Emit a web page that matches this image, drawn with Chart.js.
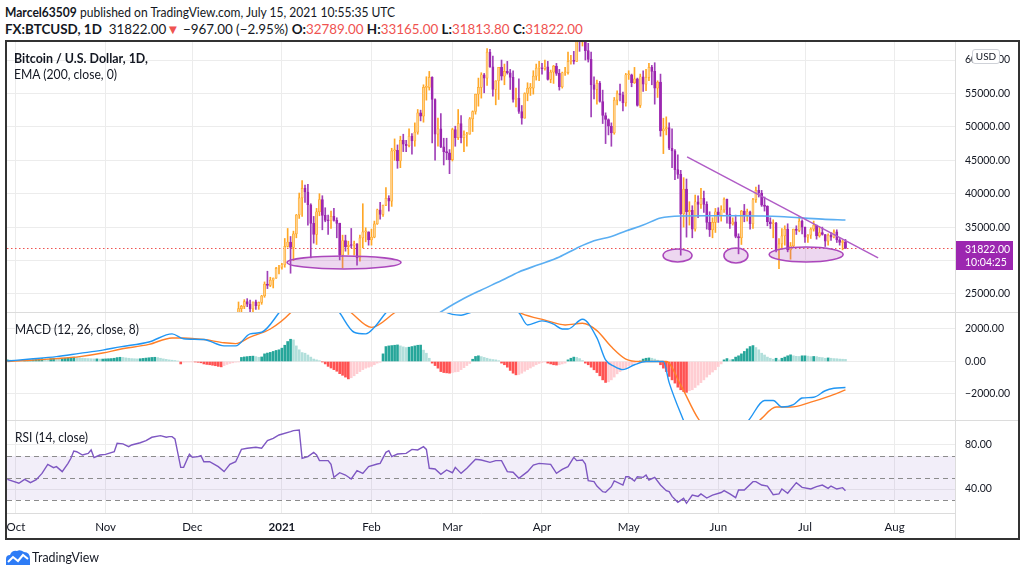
<!DOCTYPE html>
<html><head><meta charset="utf-8">
<script src="https://cdn.jsdelivr.net/npm/chart.js@4.4.1/dist/chart.umd.min.js"></script>
<style>
html,body{margin:0;padding:0;background:#fff}
body{width:1024px;height:575px;position:relative;overflow:hidden;font-family:Lato,'Liberation Sans',sans-serif;color:#131722}
.t{position:absolute;white-space:nowrap;transform-origin:0 50%;line-height:16px;font-size:13px}
.b{font-weight:bold}
.r{color:#EF5350}
canvas{position:absolute;left:7px}
.ln{position:absolute;background:#dcdcdc}
#frame{position:absolute;left:5px;top:40px;width:1015px;height:500px;border:2px solid #333;box-sizing:border-box;pointer-events:none}
#usd{position:absolute;left:972px;top:49px;width:26px;height:13px;border:1px solid #cfd2d8;border-radius:3px;background:#fff;font-size:10px;line-height:13px;text-align:center;color:#131722}
</style></head><body>
<div id="h1" class="t" style="left:5px;top:4px"><span class="b">Marcel63509</span> published on TradingView.com, July 15, 2021 10:55:35 UTC</div>
<div id="h2" class="t" style="left:5px;top:21px"><span class="b">FX:BTCUSD, 1D</span>&nbsp; 31822.00<span class="r">▼</span> −967.00 (−2.95%) <span class="b">O:</span><span class="r">32789.00</span> <span class="b">H:</span><span class="r">33165.00</span> <span class="b">L:</span><span class="r">31813.80</span> <span class="b">C:</span><span class="r">31822.00</span></div>

<canvas id="cMain" width="1012" height="271" style="top:41px;width:1012px;height:271px"></canvas>
<canvas id="cMacd" width="1012" height="108" style="top:312px;width:1012px;height:108px"></canvas>
<canvas id="cRsi" width="1012" height="119" style="top:420px;width:1012px;height:119px"></canvas>

<div class="ln" style="left:6px;top:312px;width:1013px;height:1px"></div>
<div class="ln" style="left:6px;top:420px;width:1013px;height:1px"></div>
<div class="ln" style="left:955px;top:41px;width:1px;height:498px"></div>

<div id="lg1" class="t b" style="left:14px;top:50px;font-size:14px">Bitcoin / U.S. Dollar, 1D,</div>
<div id="lg2" class="t" style="left:14px;top:66px;font-size:14px">EMA (200, close, 0)</div>
<div id="lg3" class="t" style="left:15px;top:321px;font-size:13px">MACD (12, 26, close, 8)</div>
<div id="lg4" class="t" style="left:15px;top:429px;font-size:13px">RSI (14, close)</div>
<div id="usd">USD</div>
<div id="frame"></div>

<svg style="position:absolute;left:5px;top:549px" width="26" height="17" viewBox="0 0 26 17">
<path d="M1 16 L1 10 Q1 6 5 6 Q7 1 12 2 Q15 0 19 3 Q25 3 25 10 L25 16 Z" fill="#2E7CF6"/>
<polyline points="3,13 8,8 13,12 18,6 23,10" fill="none" stroke="#fff" stroke-width="2"/>
</svg>
<div id="ft" class="t" style="left:32px;top:549px;font-size:13px">TradingView</div>

<script>
// ---------------- DATA ----------------
// x axis: day index, 0 = 1 Oct 2020
const monthDays   = [0, 31, 61, 92, 123, 151, 182, 212, 243, 273, 304];
const monthLabels = ['Oct','Nov','Dec','2021','Feb','Mar','Apr','May','Jun','Jul','Aug'];

const priceTicks = [25000, 30000, 35000, 40000, 45000, 50000, 55000, 60000];
const macdTicks  = [-2000, 0, 2000];
const rsiTicks   = [40, 80];

// Daily candles from 17 Dec 2020 (day 77) to 15 Jul 2021 (day 287)
const candleStartDay = 77;
const opens = [
 21300,22800,23150,23850,23480,22750,23820,23250,23730,24700,26480,26280,27080,27360,28840,
 29000,29370,32130,32780,31970,33990,36820,39370,40800,40250,38350,35550,33900,37300,39140,36770,36000,35950,36600,36000,35550,30800,33000,32090,32290,32250,32500,30400,33400,34300,34300,
 33100,33500,35500,37600,36900,38300,39300,38900,46400,46500,44900,48000,47400,47200,48600,47900,49200,52100,51600,55900,55900,57400,54100,48900,49700,47000,46300,46100,
 45100,49600,48400,50500,48400,48800,48900,51200,52300,54900,55900,57800,57300,61200,59000,55600,56900,58900,57600,58300,58100,57400,54100,54300,52300,51300,55000,55800,55800,57600,58800,
 58800,58700,59000,57100,58200,59100,58000,56000,58100,58100,59800,59900,59800,63500,62900,63200,61400,60100,56300,55600,56500,53800,51700,51100,50100,49100,54000,55000,54800,53600,
 57800,57800,56600,57200,53200,57500,56400,57400,58900,58300,55800,56700,49400,49700,49900,46800,46400,43600,42900,37000,40700,37300,37500,34700,38800,38400,39300,38400,35700,34600,35700,
 37300,36700,37600,39200,36900,35500,35800,33600,33400,37400,36700,37300,35500,39100,40500,40100,38300,38100,35800,35500,35600,31600,32500,33700,34700,31600,32200,34700,34500,35900,
 35000,33500,33800,34700,35300,33700,34200,33900,32900,33800,33500,34300,33100,32700,32789];
const highs = [
 23800,23300,24150,24300,24100,23800,24100,23800,24800,26800,28400,27500,27400,28990,29300,
 29600,33300,34800,33600,34400,36900,40100,41950,41300,41400,38500,36600,37800,40000,39700,37900,36800,37400,37800,36400,35600,33800,33800,32900,34800,32900,32550,33800,38500,34900,34300,
 34700,35900,37700,38700,38300,40900,39700,46800,48200,47300,48600,48900,48000,49700,49000,50600,52600,52500,56300,57500,58300,57500,54200,51300,52000,48300,48300,46600,
 49800,50100,52600,51700,49400,49200,51400,52400,54900,57300,58100,58000,61700,61600,60600,56900,58900,60000,59400,59800,58600,58400,55800,57200,53200,55100,56600,56500,58400,59400,59800,
 59500,60000,59800,58500,59200,59500,58600,58200,58900,61200,60700,61300,63800,64800,63800,63500,62500,61200,57500,57000,56800,55500,52100,51200,50600,54400,55400,56400,55200,58000,
 58400,57900,58900,57300,57900,58400,58600,59500,59200,59600,56900,57900,51300,51500,50600,49700,46600,45800,43500,42400,42200,38800,38200,39800,39700,40800,40400,38800,37300,36400,37800,
 37900,38200,39400,39200,37900,36400,36800,34000,37500,38400,37700,37400,39300,41000,41300,40500,39500,38200,36400,36100,35700,33300,34800,35200,35500,32700,34700,35200,36600,36100,
 35000,33900,34900,35900,35300,35000,35000,33900,34000,34200,34600,34600,33300,33100,33165];
const lows = [
 21200,22350,22800,23100,22350,22350,22700,22700,23450,24500,25800,26100,25900,27320,28000,
 28700,29000,32000,28100,30000,33400,36300,36600,38700,35300,30400,32600,32400,36700,34600,35800,33900,34800,35900,33400,30100,28900,31400,30900,31900,30800,29300,29900,31900,32800,32300,
 32300,33400,35400,36200,36600,38200,37400,38100,45000,43800,43900,46300,46300,47000,45900,47100,48900,50900,50700,54000,55500,47600,45000,47100,46900,44300,45100,43000,
 44900,47100,48100,47600,46300,47100,48900,49300,51900,53100,54300,55100,56200,58900,54600,53300,54100,57000,56300,57900,55600,53700,53000,52000,50400,51300,53900,54700,54900,57000,56900,
 57900,58500,57000,56600,56500,57700,55500,55800,57700,57900,59400,59400,59800,61300,62100,60000,59700,51500,54200,53400,53700,50500,47500,48800,47100,48900,53300,53900,52400,53100,
 57100,56000,56500,53100,52900,55300,55400,56900,56300,53400,54400,48600,46000,48800,46600,43900,42100,42300,30800,35000,33500,35300,33400,34400,36400,37800,37200,34700,33600,33400,34200,
 35700,35900,37200,35600,34800,35300,33400,31000,32400,35800,35900,34700,34800,38700,39500,38100,37400,35200,34800,33400,31300,28800,31700,32300,31300,30200,32000,33900,34300,34000,
 32700,32700,33300,34400,33200,33500,33800,32100,32300,33000,33400,32700,32300,31600,31814];
const closes = [
 22800,23150,23850,23480,22750,23820,23250,23730,24700,26480,26280,27080,27360,28840,29000,
 29370,32130,32780,31970,33990,36820,39370,40800,40250,38350,35550,33900,37300,39140,36770,36000,35950,36600,36000,35550,30800,33000,32090,32290,32250,32500,30400,33400,34300,34300,33100,
 33500,35500,37600,36900,38300,39300,38900,46400,46500,44900,48000,47400,47200,48600,47900,49200,52100,51600,55900,55900,57400,54100,48900,49700,47000,46300,46100,45100,
 49600,48400,50500,48400,48800,48900,51200,52300,54900,55900,57800,57300,61200,59000,55600,56900,58900,57600,58300,58100,57400,54100,54300,52300,51300,55000,55800,55800,57600,58800,58800,
 58700,59000,57100,58200,59100,58000,56000,58100,58100,59800,59900,59800,63500,62900,63200,61400,60100,56300,55600,56500,53800,51700,51100,50100,49100,54000,55000,54800,53600,57800,
 57800,56600,57200,53200,57500,56400,57400,58900,58300,55800,56700,49400,49700,49900,46800,46400,43600,42900,37000,40700,37300,37500,34700,38800,38400,39300,38400,35700,34600,35700,37300,
 36700,37600,39200,36900,35500,35800,33600,33400,37400,36700,37300,35500,39100,40500,40100,38300,38100,35800,35500,35600,31600,32500,33700,34700,31600,32200,34700,34500,35900,35000,
 33500,33800,34700,35300,33700,34200,33900,32900,33800,33500,34300,33100,32700,32789,31822];
const lastClose = 31822;

// EMA 200
const emaDays = [143,147,154,161,168,174,181,188,194,200,206,211,217,223,230,240,250,257,264,271,279,287];
const emaVals = [21000,22300,24100,25600,27000,28300,29400,30540,31850,32950,33600,34420,35300,36370,36670,36700,36700,36670,36600,36400,36200,36070];

// Hand-drawn trend line and ellipses (centre day / price, half-width in days / price)
const trendDays   = [232.2, 298.3];
const trendPrices = [45500, 30400];
const ellDays       = [113.5, 228.9, 249.1, 273.4];
const ellPrices     = [29710, 30760, 30760, 30910];
const ellHalfDays   = [19.7, 5.0, 4.15, 12.8];
const ellHalfPrices = [970, 970, 1120, 1120];

// MACD (12, 26, close, 8)
const histStartDay = -3;
const histVals = [
 100,90,80,60,50,40,50,60,80,100,
 120,150,180,170,160,180,200,190,170,180,200,230,
 260,270,250,230,210,190,180,
 170,160,160,150,150,160,170,180,200,
 240,260,250,220,
 200,180,170,160,170,190,210,230,
 250,260,240,200,160,
 130,100,80,60,30,
 -150,-40,-30,-30,-20,-30,-50,-80,
 -150,-180,-200,-230,-260,-300,-330,-250,
 -180,-120,-80,-40,-20,
 250,280,300,320,330,300,260,280,
 470,520,560,620,680,720,820,1000,1230,1370,1330,
 960,720,550,510,400,270,150,100,50,
 -20,-150,-300,-400,-500,-600,-750,-850,-960,-1070,-1000,-880,-750,-620,-500,-410,-350,-300,-200,-100,-50,
 470,920,960,980,1000,1020,960,900,860,880,920,960,1000,1010,700,510,200,
 -100,-250,-410,-620,-680,-700,-720,-680,-640,-620,-500,-380,-250,-120,
 140,310,350,300,250,200,150,120,100,50,
 -100,-200,-350,-550,-720,-820,-800,-720,-600,-500,-400,-300,-200,-120,-60,
 -30,-100,-150,-200,-220,-200,-150,-100,
 100,200,270,250,180,60,
 -100,-200,-350,-510,-680,-880,-1130,-1290,-1250,-1130,-960,-760,-620,-500,-410,-260,-200,-100,
 -40,30,
 150,200,220,200,150,80,
 -200,-410,-620,-920,-1130,-1330,-1580,-1740,-1850,-1900,-1800,-1740,-1600,-1450,-1300,-1130,-960,-800,-650,-510,-310,-150,
 100,180,100,120,270,350,470,620,780,920,980,860,720,510,400,270,200,140,200,100,200,270,350,410,350,320,310,350,350,330,300,310,300,260,240,200,220,200,180,170,150,140,130];
const macdDays = [-3,5,14,22,30,36,46,54,58,65,72,76,81,85,91,96,102,108,112,117,121,124,128,135,142,148,151,154,157,162,168,174,177,182,186,189,191,196,201,204,207,210,214,218,224,226,230,236,244,250,254,259,262,265,269,272,276,280,283,287];
const macdVals = [30,150,300,500,700,900,1200,1700,1400,1350,960,960,1700,1800,3000,4300,5200,4000,3000,1800,1700,2100,3000,4200,3800,3100,2900,2850,3000,3300,3400,3000,2250,2500,2300,2000,2000,2600,1450,100,-300,-500,-200,0,0,-1300,-3200,-5500,-6000,-4500,-3500,-2400,-2400,-2800,-2650,-2250,-2200,-1800,-1650,-1600];
const signalDays = [-3,5,14,22,30,36,46,54,58,65,72,76,81,88,95,102,110,116,123,131,138,150,160,170,175,183,190,196,201,206,211,216,225,230,236,245,252,258,263,268,275,282,287];
const signalVals = [0,80,180,300,520,750,1050,1450,1450,1350,1150,1100,1500,2000,3000,4600,3900,3000,2100,3000,3800,3500,3300,3400,2950,2550,2250,2350,1900,900,150,0,0,-1450,-3500,-5200,-4600,-3500,-2800,-2800,-2500,-2100,-1750];

// RSI (14, close)
const rsiDays = [-3,1,3,5,7,9,11,13,14,16,18,19,20,21,23,25,26,27,29,31,34,35,37,39,40,43,45,47,50,52,53,54,55,57,58,60,61,63,64,65,67,70,72,74,76,78,80,83,85,87,89,90,91,95,96,98,99,101,103,104,105,108,109,110,112,114,116,118,120,122,125,126,128,129,130,132,135,137,139,141,142,143,145,147,149,151,152,154,156,159,161,164,166,168,170,172,174,177,179,181,185,187,189,191,193,194,196,197,198,200,201,203,204,206,207,210,211,212,214,215,217,218,219,221,223,225,226,227,229,231,232,234,236,237,239,241,244,245,247,249,250,252,255,256,258,260,262,264,265,267,270,272,275,277,279,281,282,284,286,287];
const rsiVals = [48.8,45.2,48.8,45.8,48.5,54.2,62.4,59.4,60.3,55.8,63.3,67.9,74.5,73.9,70.9,72.4,75.5,68.5,70.9,71.5,73.9,81.5,81,78.5,80,82,83.9,87,88.5,87,87.6,87.6,85.5,59.7,59.7,71.5,68.8,69.4,70.3,64.8,64.8,60.3,55.8,62.4,64.8,76,77,77.9,77,83.9,86,87.6,89.1,92.1,93,93.6,67.9,69.4,73.3,70.9,65.8,65.8,62.4,50.6,54.8,52.7,49.1,56.7,54.2,60.3,62.7,63.3,73.3,74.8,69.4,71.8,72.4,76,75.5,78.5,76,58.8,58.2,53.3,57.3,54.8,59.7,54.2,58.8,67,66.4,64.2,65.8,65.8,55.8,55.2,49.7,55.8,61.8,63.3,62.4,54.2,57.9,60.3,68.8,65.8,66.4,62.7,47.6,46.7,42.7,37.6,37,42.1,47.3,43.6,51.2,51.2,47.3,51.2,50.6,52.7,48.2,50.6,43.6,38.5,37.6,33.3,27.9,31.5,27,34.5,33.3,35.5,31.8,34.5,36.8,38.5,35.5,32.1,39.1,39.1,46.7,46.7,43.6,42.7,34.8,35.5,40,36.1,45.8,41.5,40,42.1,43.6,40.6,42.7,40,41.2,38.5];
const rsiBand = [30, 50, 70];

// ---------------- RENDER ----------------
const X_MIN = -3.11, X_MAX = 324.9;
const GRID = '#ececec';
const FONT = 'Lato';
const AXIS_W = 64;

function xAxis(bottomH){
  return {
    type:'linear', min:X_MIN, max:X_MAX, offset:false,
    afterBuildTicks: ax => { ax.ticks = monthDays.map(v => ({value:v})); },
    grid:{color:GRID, drawTicks:false, offset:false},
    border:{display:bottomH > 0, color:'#dcdcdc'},
    ticks:{display:false},
    afterFit: ax => { ax.height = bottomH; }
  };
}
function yAxis(min, max, ticks){
  return {
    position:'right', min, max,
    afterBuildTicks: ax => { ax.ticks = ticks.map(v => ({value:v})); },
    afterFit: ax => { ax.width = AXIS_W; },
    grid:{color:GRID, drawTicks:false},
    border:{display:false},
    ticks:{display:false}
  };
}
const fmt2 = v => (v < 0 ? '\u2212' : '') + Math.abs(v).toFixed(2);
// draws the axis tick labels through the chart's own scales
function axisLabels(ticks, withTime){
  return {
    id:'axisLabels',
    beforeDatasetsDraw(chart){
      const {ctx, chartArea:a, scales:{x, y}} = chart;
      ctx.save();
      ctx.fillStyle = '#131722'; ctx.textBaseline = 'middle'; ctx.textAlign = 'left';
      ctx.font = '10.5px ' + FONT;
      ticks.forEach(v => ctx.fillText(fmt2(v), a.right + 10, y.getPixelForValue(v)));
      if (withTime) {
        ctx.textAlign = 'center';
        monthDays.forEach((d, i) => {
          ctx.font = (monthLabels[i] === '2021' ? 'bold ' : '') + '11.5px ' + FONT;
          ctx.fillText(monthLabels[i], x.getPixelForValue(d), a.bottom + 14);
        });
      }
      ctx.restore();
    }
  };
}
const base = {
  responsive:false, animation:false, devicePixelRatio:1,
  layout:{padding:0},
  plugins:{legend:{display:false}, tooltip:{enabled:false}},
  events:[]
};

// ---- main price pane
const cDays = closes.map((_, i) => candleStartDay + i);
const isUp = closes.map((c, i) => c >= opens[i]);
const mainDecor = {
  id:'mainDecor',
  beforeDatasetsDraw(chart){
    const {ctx, chartArea:a, scales:{y}} = chart;
    const py = Math.round(y.getPixelForValue(lastClose)) + 0.5;
    ctx.save(); ctx.strokeStyle = '#EF5350'; ctx.lineWidth = 1; ctx.setLineDash([1.5, 2.5]);
    ctx.beginPath(); ctx.moveTo(a.left, py); ctx.lineTo(a.right, py); ctx.stroke(); ctx.restore();
  },
  afterDatasetsDraw(chart){
    const {ctx, chartArea:a, scales:{x, y}} = chart;
    ctx.save();
    ctx.beginPath(); ctx.rect(a.left, a.top, a.right - a.left, a.bottom - a.top); ctx.clip();
    ellDays.forEach((d, i) => {
      const cx = x.getPixelForValue(d), cy = y.getPixelForValue(ellPrices[i]);
      const rx = Math.abs(x.getPixelForValue(d + ellHalfDays[i]) - cx);
      const ry = Math.abs(y.getPixelForValue(ellPrices[i] + ellHalfPrices[i]) - cy);
      ctx.beginPath(); ctx.ellipse(cx, cy, rx, ry, 0, 0, Math.PI * 2);
      ctx.fillStyle = 'rgba(171,71,188,0.22)'; ctx.fill();
      ctx.lineWidth = 1.6; ctx.strokeStyle = '#AB47BC'; ctx.stroke();
    });
    ctx.restore();
    // last price label on axis
    const py = y.getPixelForValue(lastClose);
    ctx.save();
    ctx.fillStyle = '#9C27B0';
    ctx.fillRect(a.right, Math.round(py) - 7, 58, 29);
    ctx.fillStyle = '#fff'; ctx.font = '10.5px ' + FONT; ctx.textBaseline = 'middle'; ctx.textAlign = 'left';
    ctx.fillText(lastClose.toFixed(2), a.right + 10, py + 1);
    ctx.fillText('10:04:25', a.right + 10, py + 14);
    ctx.restore();
  }
};
new Chart(document.getElementById('cMain'), {
  type:'line',
  data:{datasets:[
    {type:'bar', order:3, grouped:false, clip:0, barThickness:1,
     data:cDays.map((d, i) => ({x:d, y:[lows[i], highs[i]]})),
     backgroundColor:isUp.map(u => u ? '#FFA726' : '#A040B8')},
    {type:'bar', order:2, grouped:false, clip:0, barThickness:2.2, minBarLength:1,
     data:cDays.map((d, i) => ({x:d, y:[opens[i], closes[i]]})),
     backgroundColor:isUp.map(u => u ? '#FFD08A' : '#9C27B0'),
     borderColor:isUp.map(u => u ? '#FFA726' : '#9C27B0'), borderWidth:0.7, borderSkipped:false},
    {order:1, data:emaDays.map((d, i) => ({x:d, y:emaVals[i]})), borderColor:'#5AAEF2', borderWidth:1.6, pointRadius:0, cubicInterpolationMode:'monotone'},
    {order:0, data:trendDays.map((d, i) => ({x:d, y:trendPrices[i]})), borderColor:'#B05CC6', borderWidth:1.5, pointRadius:0}
  ]},
  options:{...base, scales:{x:xAxis(0), y:yAxis(22300, 62850, priceTicks)}},
  plugins:[axisLabels(priceTicks, false), mainDecor]
});

// ---- MACD pane
const histDays = histVals.map((_, i) => histStartDay + i);
const histCols = histVals.map((v, i) => {
  const p = i > 0 ? histVals[i - 1] : v;
  if (v >= 0) return v >= p ? '#26A69A' : '#B2DFDB';
  return v < p ? '#FF5252' : '#FFCDD2';
});
new Chart(document.getElementById('cMacd'), {
  type:'line',
  data:{datasets:[
    {type:'bar', order:3, grouped:false, clip:0, barThickness:2,
     data:histDays.map((d, i) => ({x:d, y:histVals[i]})), backgroundColor:histCols},
    {order:1, data:macdDays.map((d, i) => ({x:d, y:macdVals[i]})), borderColor:'#2196F3', borderWidth:1.4, pointRadius:0, cubicInterpolationMode:'monotone'},
    {order:2, data:signalDays.map((d, i) => ({x:d, y:signalVals[i]})), borderColor:'#FF7F27', borderWidth:1.4, pointRadius:0, cubicInterpolationMode:'monotone'}
  ]},
  options:{...base, scales:{x:xAxis(0), y:yAxis(-3600, 3046, macdTicks)}},
  plugins:[axisLabels(macdTicks, false)]
});

// ---- RSI pane
const rsiDecor = {
  id:'rsiDecor',
  beforeDatasetsDraw(chart){
    const {ctx, chartArea:a, scales:{y}} = chart;
    const top = y.getPixelForValue(rsiBand[2]), bot = y.getPixelForValue(rsiBand[0]);
    ctx.save();
    ctx.fillStyle = 'rgba(126,87,194,0.10)';
    ctx.fillRect(a.left, top, a.right - a.left, bot - top);
    ctx.strokeStyle = '#8c8c8c'; ctx.lineWidth = 1; ctx.setLineDash([5, 4]);
    rsiBand.forEach(v => {
      const py = Math.round(y.getPixelForValue(v)) + 0.5;
      ctx.beginPath(); ctx.moveTo(a.left, py); ctx.lineTo(a.right, py); ctx.stroke();
    });
    ctx.restore();
  }
};
new Chart(document.getElementById('cRsi'), {
  type:'line',
  data:{datasets:[
    {data:rsiDays.map((d, i) => ({x:d, y:rsiVals[i]})), borderColor:'#7E57C2', borderWidth:1.4, pointRadius:0, tension:0}
  ]},
  options:{...base, scales:{x:xAxis(26), y:yAxis(18.2, 102.7, rsiTicks)}},
  plugins:[rsiDecor, axisLabels(rsiTicks, true)]
});

// ---- fit header / legend text widths to the reference
function fit(id, w){
  const el = document.getElementById(id);
  const r = el.getBoundingClientRect().width;
  if (r > 0) el.style.transform = 'scaleX(' + (w / r).toFixed(3) + ')';
}
fit('h1', 390); fit('h2', 578); fit('lg1', 134); fit('lg2', 103); fit('lg3', 124); fit('lg4', 73); fit('ft', 67);
</script>
</body></html>
